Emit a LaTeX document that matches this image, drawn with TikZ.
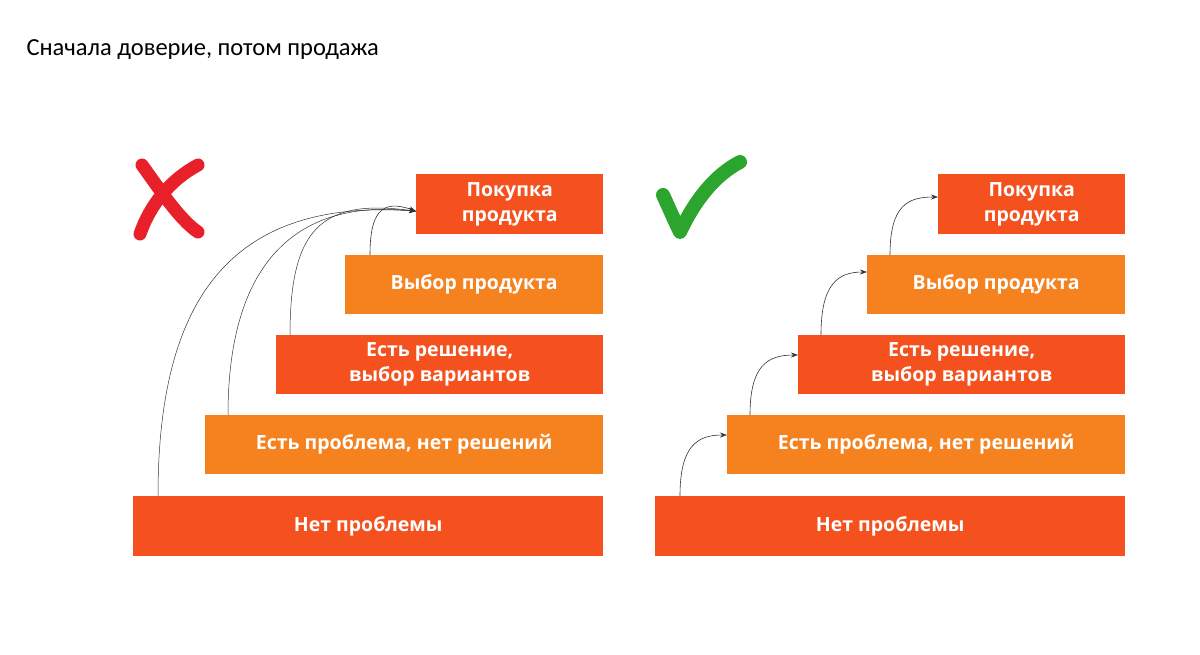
\documentclass[tikz,border=0pt]{standalone}
\usepackage{fontspec}
\setmainfont{Open Sans}
\newfontfamily\titlefont{Carlito}
\usetikzlibrary{arrows.meta}
\definecolor{dk}{HTML}{F4511E}
\definecolor{lt}{HTML}{F5821F}
\definecolor{xred}{HTML}{E8202A}
\definecolor{okg}{HTML}{2BA52E}
\begin{document}
\begin{tikzpicture}[x=1pt,y=-1pt,
  box/.style={anchor=north west,inner sep=0pt,text=white,font=\fontsize{19.5}{25}\selectfont\bfseries,align=center},
  arr/.style={-{Stealth[length=7pt,width=5pt]},line width=0.6pt,black!80}]
\useasboundingbox (0,0) rectangle (1200,654);
\node[anchor=west,font=\titlefont\fontsize{24.5}{26}\selectfont] (title) at (23,50) {Сначала доверие, потом продажа};
\foreach \o/\s in {0/L,522/R}{
  \node[box,fill=dk,minimum width=187,minimum height=60] (p\s) at (416+\o,174) {Покупка\\продукта};
  \node[box,fill=lt,minimum width=258,minimum height=59] (v\s) at (345+\o,255) {Выбор продукта};
  \node[box,fill=dk,minimum width=327,minimum height=59] (e\s) at (276+\o,335) {Есть решение,\\выбор вариантов};
  \node[box,fill=lt,minimum width=398,minimum height=59] (r\s) at (205+\o,415) {Есть проблема, нет решений};
  \node[box,fill=dk,minimum width=470,minimum height=60] (n\s) at (133+\o,496) {Нет проблемы};
}
\coordinate (tgt) at ([yshift=-7]pL.west);
\draw[arr,line width=0.5pt] (nL.north west) ++(25,0) .. controls (158,300) and (230,198) .. (tgt);
\draw[arr,line width=0.5pt] (rL.north west) ++(23,0) .. controls (228,270) and (290,198) .. (tgt);
\draw[arr,line width=0.5pt] (eL.north west) ++(14,0) .. controls (290,230) and (320,198) .. (tgt);
\draw[arr] (vL.north west) ++(25,0) .. controls (370,215) and (380,198) .. (tgt);
\draw[arr] (nR.north west) ++(25,0) .. controls +(0,-50) and +(-30,0) .. ([yshift=-20]rR.north west);
\draw[arr] (rR.north west) ++(23,0) .. controls +(0,-50) and +(-30,0) .. ([yshift=-20]eR.north west);
\draw[arr] (eR.north west) ++(23,0) .. controls +(0,-50) and +(-30,0) .. ([yshift=-17]vR.north west);
\draw[arr] (vR.north west) ++(23,0) .. controls +(0,-50) and +(-30,0) .. ([yshift=-23]pR.north west);
\draw[xred,line width=13pt,line cap=round] (142,165) .. controls (160,190) and (180,220) .. (198,232);
\draw[xred,line width=13pt,line cap=round] (198,165) .. controls (170,180) and (150,205) .. (140,234);
\draw[okg,line width=14pt,line cap=round,line join=round] (663,195) .. controls (670,210) and (675,222) .. (680,232) .. controls (695,200) and (715,175) .. (740,162);
\end{tikzpicture}
\end{document}
